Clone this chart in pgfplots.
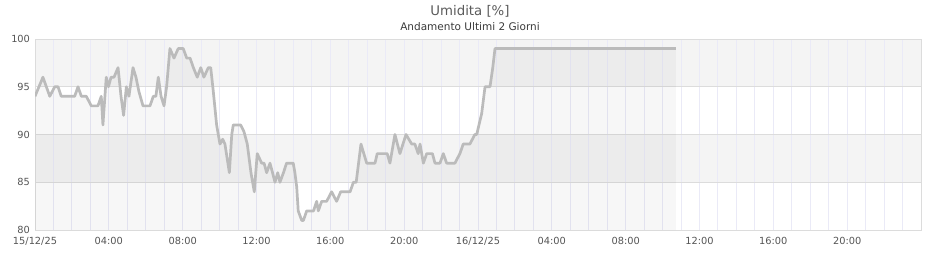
\documentclass[border=0pt]{standalone}
\usepackage{fontspec}
\setmainfont{DejaVu Sans}
\usepackage{pgfplots}
\usepackage{pgfplotstable}
\pgfplotsset{compat=1.18}
\definecolor{band}{HTML}{F4F4F4}
\definecolor{gridh}{HTML}{DCDCDC}
\definecolor{gridv}{HTML}{EAEAF7}
\definecolor{linec}{HTML}{BBBBBB}
\definecolor{txt}{HTML}{555555}
\definecolor{titlec}{HTML}{5A5A5A}
\definecolor{subc}{HTML}{3A3A3A}
\pgfplotstableread{
h v
0.00 94
0.43 96
0.80 94
1.07 95
1.25 95
1.42 94
2.15 94
2.33 95
2.51 94
2.78 94
3.05 93
3.41 93
3.59 94
3.68 91
3.86 96
3.98 95
4.12 96
4.28 96
4.50 97
4.66 94
4.80 92
4.95 95
5.09 94
5.31 97
5.47 96
5.63 94.5
5.85 93
6.23 93
6.41 94
6.55 94
6.68 96
6.83 94
6.99 93
7.13 95
7.31 99
7.53 98
7.76 99
8.03 99
8.22 98
8.40 98
8.58 97
8.79 96
8.98 97
9.15 96
9.39 97
9.52 97
9.66 94.5
9.84 91
10.02 89
10.17 89.5
10.29 89
10.53 86
10.66 90
10.74 91
11.14 91
11.32 90.3
11.50 89
11.70 86
11.88 84
12.04 88
12.28 87
12.41 87
12.55 86
12.73 87
12.87 86
13.00 85
13.15 86
13.27 85
13.46 86
13.63 87
13.99 87
14.08 86
14.18 84.5
14.26 82
14.45 81
14.54 81
14.72 82
15.09 82
15.26 83
15.35 82
15.53 83
15.80 83
16.07 84
16.34 83
16.56 84
17.07 84
17.25 85
17.40 85
17.66 89
17.97 87
18.42 87
18.54 88
19.08 88
19.23 87
19.50 90
19.77 88
20.10 90
20.41 89
20.58 89
20.76 88
20.86 89
21.04 87
21.22 88
21.53 88
21.67 87
21.94 87
22.12 88
22.30 87
22.75 87
23.02 88
23.20 89
23.56 89
23.83 90
23.93 90
24.20 92.2
24.38 95
24.65 95
24.80 97
24.92 99
34.72 99
}\datatab
\begin{document}
\begin{tikzpicture}
\begin{axis}[
  at={(35pt,30pt)}, anchor=south west,
  scale only axis, width=886pt, height=191pt,
  xmin=0, xmax=48, ymin=80, ymax=100,
  set layers,
  xtick={0,4,...,44},
  xticklabels={15/12/25,04:00,08:00,12:00,16:00,20:00,16/12/25,04:00,08:00,12:00,16:00,20:00},
  minor xtick={1,...,47},
  ytick={80,85,90,95,100},
  xmajorgrids, xminorgrids, ymajorgrids,
  major x grid style={gridv, line width=1pt},
  minor x grid style={gridv, line width=1pt},
  major y grid style={gridh, line width=1pt},
  major tick length=0pt, minor tick length=0pt,
  axis line style={gridh, line width=1pt},
  ticklabel style={font=\fontsize{9.8}{11}\selectfont, text=txt},
  xticklabel style={yshift=-4pt},
  yticklabel style={xshift=-1.5pt},
  /pgf/number format/assume math mode=true,
]
\addplot[draw=none, fill=band, on layer=axis background] coordinates {(0,95) (48,95) (48,100) (0,100)} -- cycle;
\addplot[draw=none, fill=band, on layer=axis background] coordinates {(0,85) (48,85) (48,90) (0,90)} -- cycle;
\addplot[draw=none, fill=black, fill opacity=0.03] table[x=h,y=v] {\datatab} \closedcycle;
\addplot[linec, line width=2.7pt, line join=round] table[x=h,y=v] {\datatab};
\end{axis}
\node[font=\fontsize{13.3}{15}\selectfont, text=titlec] at (470pt,249pt) {Umidita [\%]};
\node[font=\fontsize{10.5}{12}\selectfont, text=subc] at (470pt,233pt) {Andamento Ultimi 2 Giorni};
\path[use as bounding box] (0pt,0pt) rectangle (940pt,260pt);
\end{tikzpicture}
\end{document}
